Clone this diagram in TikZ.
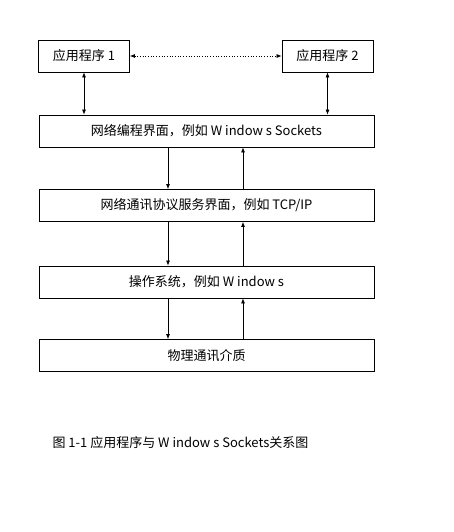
\documentclass[tikz,border=0pt]{standalone}
\usepackage{fontspec}
\newfontfamily\cjk{Noto Sans CJK SC}
\usetikzlibrary{arrows.meta}

\begin{document}
\begin{tikzpicture}[
    x=1pt, y=-1pt,
    every node/.style={font=\cjk\fontsize{13pt}{15pt}\selectfont, align=center},
    box/.style={draw, line width=0.8pt, minimum height=32pt, inner sep=0pt},
    appbox/.style={box, minimum width=91pt},
    layer/.style={box, minimum width=335pt},
    tip/.style={line width=0.7pt, {Latex[length=5pt,width=4pt]}-{Latex[length=5pt,width=4pt]}},
    down/.style={line width=0.7pt, -{Latex[length=5pt,width=4pt]}}
]
    \useasboundingbox (0,0) rectangle (453,532);

    \node[appbox] (app1) at (84,56) {应用程序 1};
    \node[appbox] (app2) at (327.5,56) {应用程序 2};
    \node[layer] (api) at (206.5,131) {网络编程界面，例如 W indow s Sockets};
    \node[layer] (proto) at (206.5,205.5) {网络通讯协议服务界面，例如 TCP/IP};
    \node[layer] (os) at (206.5,282) {操作系统，例如 W indow s};
    \node[layer] (phys) at (206.5,355.5) {物理通讯介质};
    \node[anchor=west] (cap) at (49,443) {图 1-1 应用程序与 W indow s Sockets关系图};

    \draw[tip, dotted] (app1) -- (app2);
    \draw[tip] (app1) -- (app1 |- api.north);
    \draw[tip] (app2) -- (app2 |- api.north);

    \draw[down] (168,0 |- api.south) -- (168,0 |- proto.north);
    \draw[down] (243,0 |- proto.north) -- (243,0 |- api.south);
    \draw[down] (168,0 |- proto.south) -- (168,0 |- os.north);
    \draw[down] (243,0 |- os.north) -- (243,0 |- proto.south);
    \draw[down] (168,0 |- os.south) -- (168,0 |- phys.north);
    \draw[down] (243,0 |- phys.north) -- (243,0 |- os.south);
\end{tikzpicture}
\end{document}
